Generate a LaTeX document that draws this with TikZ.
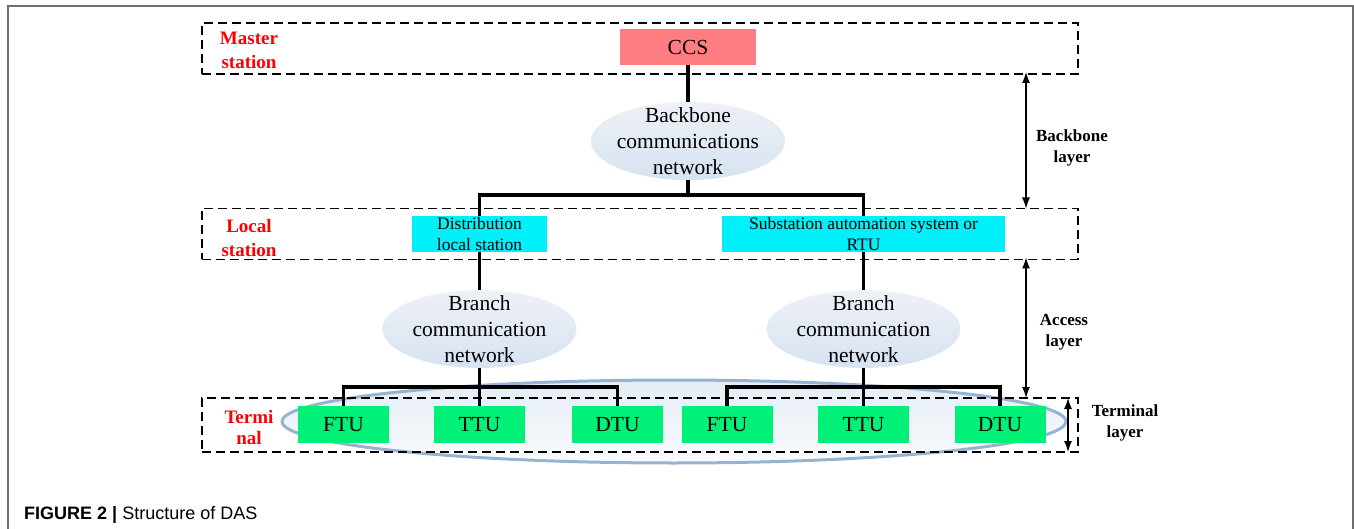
\documentclass[tikz,border=0pt]{standalone}
\usepackage{fontspec}
\setmainfont{Liberation Serif}
\newfontfamily\capfont{Liberation Sans}
\usetikzlibrary{shapes.geometric,arrows.meta}
\definecolor{ccsred}{RGB}{255,124,128}
\definecolor{cyanbox}{RGB}{0,240,250}
\definecolor{greenbox}{RGB}{0,240,120}
\definecolor{ellA}{RGB}{238,241,246}
\definecolor{ellB}{RGB}{214,227,241}
\definecolor{bigline}{RGB}{150,180,210}
\definecolor{bigA}{RGB}{228,236,245}
\definecolor{bigB}{RGB}{250,252,254}
\definecolor{framegray}{RGB}{110,110,110}
\tikzset{
  layerbox/.style={draw, dash pattern=on 9pt off 5pt, line width=1.5pt, inner sep=0pt, outer sep=0pt},
  unitbox/.style={inner sep=0pt, outer sep=0pt, align=center},
  netell/.style={ellipse, inner sep=0pt, outer sep=0pt, minimum width=194pt, minimum height=78pt, top color=ellA, bottom color=ellB, draw=none},
  nettext/.style={align=center, font=\fontsize{21.5}{26}\selectfont},
  conn/.style={line width=3.6pt, line join=miter},
  redlabel/.style={text=red, align=center, font=\fontsize{19}{24}\selectfont\bfseries},
  sidelabel/.style={align=center, font=\fontsize{17}{21}\selectfont\bfseries},
  dimarrow/.style={line width=1.1pt, {Latex[length=11pt,width=8pt]}-{Latex[length=11pt,width=8pt]}}
}
\begin{document}
\begin{tikzpicture}[x=1pt,y=-1pt]
\useasboundingbox (0,0) rectangle (1354,529);
% frame
\draw[framegray, line width=1.5pt] (8,529) -- (8,6) -- (1353,6) -- (1353,529);

% big terminal ellipse (background)
\node[ellipse, draw=bigline, line width=3pt, top color=bigA, bottom color=bigB, minimum width=784pt, minimum height=83pt, inner sep=0pt] (termell) at (674,421.5) {};

% layer boxes
\node[layerbox, minimum width=876pt, minimum height=51pt] (master) at (640,48.5) {};
\node[layerbox, minimum width=876pt, minimum height=51pt] (local) at (640,234) {};
\node[layerbox, minimum width=876pt, minimum height=54pt] (term) at (640,425) {};

% red layer labels
\node[redlabel] (lmaster) at (249,50) {Master\\station};
\node[redlabel] (llocal) at (249,238) {Local\\station};
\node[redlabel, font=\fontsize{19}{21}\selectfont\bfseries] (lterm) at (249,427) {Termi\\nal};

% CCS
\node[unitbox, fill=ccsred, minimum width=136pt, minimum height=36pt, font=\fontsize{21.5}{26}\selectfont] (ccs) at (688,47) {CCS};

% backbone network
\node[netell] (bb) at (688,141) {};
\node[nettext] (bbt) at (688,141) {Backbone\\communications\\network};

% local stations
\node[unitbox, fill=cyanbox, minimum width=135pt, minimum height=36pt, font=\fontsize{17.5}{21}\selectfont] (dist) at (479.5,234) {Distribution\\local station};
\node[unitbox, fill=cyanbox, minimum width=283pt, minimum height=36pt, font=\fontsize{17.5}{21}\selectfont] (sub) at (863.5,234) {Substation automation system or\\RTU};

% branch networks
\node[netell] (lbr) at (479.5,329) {};
\node[nettext] (lbrt) at (479.5,329) {Branch\\communication\\network};
\node[netell] (rbr) at (863.5,329) {};
\node[nettext] (rbrt) at (863.5,329) {Branch\\communication\\network};

% terminal units
\tikzset{tu/.style={unitbox, fill=greenbox, minimum width=91pt, minimum height=37pt, font=\fontsize{21.5}{26}\selectfont}}
\node[tu] (ftu1) at (343.5,424.5) {FTU};
\node[tu] (ttu1) at (479.5,424.5) {TTU};
\node[tu] (dtu1) at (617.5,424.5) {DTU};
\node[tu] (ftu2) at (727,424.5) {FTU};
\node[tu] (ttu2) at (863.5,424.5) {TTU};
\node[tu] (dtu2) at (1000,424.5) {DTU};

% connectors
\coordinate (j1) at (688,195);
\coordinate (j2) at (479.5,387);
\coordinate (j3) at (863.5,387);
\draw[conn] (ccs.south) -- (bb.north);
\draw[conn] (bb.south) -- (j1);
\draw[conn] (dist.north) |- (j1) -| (sub.north);
\draw[conn] (dist.south) -- (lbr.north);
\draw[conn] (sub.south) -- (rbr.north);
\draw[conn] (lbr.south) -- (ttu1.north);
\draw[conn] (ftu1.north) |- (j2) -| (dtu1.north);
\draw[conn] (rbr.south) -- (ttu2.north);
\draw[conn] (ftu2.north) |- (j3) -| (dtu2.north);

% layer arrows
\coordinate (ax) at (1026,0);
\coordinate (tx) at (1068,0);
\draw[dimarrow] ([yshift=2pt]ax |- master.south) -- (ax |- local.north);
\draw[dimarrow] ([yshift=2pt]ax |- local.south) -- (ax |- term.north);
\draw[dimarrow] (tx |- term.north) -- (tx |- term.south);

\node[sidelabel] (lbb) at (1072,148) {Backbone\\layer};
\node[sidelabel] (lacc) at (1064,332) {Access\\layer};
\node[sidelabel] (ltl) at (1125,423) {Terminal\\layer};

% caption
\node[anchor=base west, inner sep=0pt, font=\capfont\fontsize{18}{22}\selectfont] (cap) at (24,519) {\textbf{FIGURE 2 |} Structure of DAS};
\end{tikzpicture}
\end{document}
